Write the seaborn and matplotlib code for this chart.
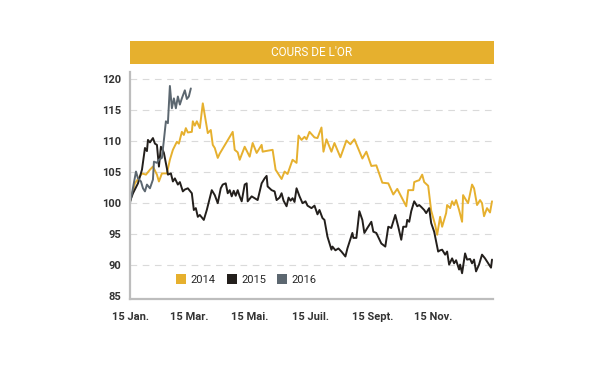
import pandas as pd
import matplotlib.pyplot as plt
import seaborn as sns
from matplotlib.patches import Rectangle, Patch

# Jours depuis le 15 janvier et cours (base 100)
jours_2014 = [0, 5, 12, 16, 20, 23, 27, 29, 32, 37, 40, 43, 47, 49, 52, 54, 56, 58, 62, 63, 65, 67, 70, 73,
              78, 81, 83, 85, 88, 90, 103, 105, 108, 110, 115, 120, 123, 127, 132, 133, 136, 143, 146, 152,
              155, 158, 163, 167, 169, 172, 175, 177, 180, 185, 188, 192, 194, 197, 202, 205, 211, 217, 221,
              225, 233, 237, 242, 247, 253, 259, 264, 268, 277, 279, 284, 285, 288, 290, 293, 295, 299, 302,
              306, 308, 311, 313, 317, 318, 321, 323, 325, 327, 330, 333, 334, 337, 339, 343, 345, 348, 351,
              353, 355, 358, 361, 363]
cours_2014 = [100.3, 103.2, 104.8, 104.6, 105.4, 105.9, 104.6, 103.5, 104.8, 104.8, 107.0, 108.6, 109.9, 109.6,
              111.5, 111.0, 112.1, 111.4, 111.5, 113.2, 112.5, 113.2, 112.1, 116.1, 111.3, 111.8, 109.4, 108.9,
              107.3, 108.0, 111.5, 108.6, 108.2, 107.0, 109.1, 107.5, 109.7, 108.1, 109.4, 108.3, 108.4, 108.6,
              105.4, 103.9, 105.1, 104.7, 107.0, 106.5, 110.9, 110.2, 110.7, 110.3, 111.5, 110.6, 110.5, 112.2,
              108.3, 110.3, 108.3, 109.7, 107.4, 110.1, 109.5, 110.3, 107.2, 108.3, 106.0, 106.1, 103.3, 103.2,
              101.4, 102.3, 99.5, 102.1, 102.1, 103.4, 103.6, 103.7, 104.6, 103.4, 102.8, 98.8, 96.5, 94.9,
              97.8, 96.2, 98.4, 99.7, 99.2, 100.3, 99.7, 100.5, 98.9, 97.0, 101.3, 100.5, 100.0, 103.0, 102.4,
              99.7, 100.5, 100.0, 97.9, 99.2, 98.5, 100.3]

jours_2015 = [0, 3, 8, 12, 15, 17, 18, 20, 23, 25, 27, 29, 31, 33, 34, 37, 38, 41, 43, 45, 48, 50, 53, 55, 58,
              62, 64, 66, 68, 70, 74, 77, 80, 82, 85, 88, 91, 93, 96, 98, 100, 102, 104, 106, 108, 110, 112,
              115, 117, 118, 122, 125, 128, 132, 135, 137, 138, 142, 145, 147, 150, 152, 154, 157, 159, 161,
              163, 165, 167, 170, 173, 176, 178, 182, 185, 188, 190, 193, 195, 198, 202, 203, 206, 209, 212,
              216, 218, 223, 224, 227, 230, 233, 235, 238, 242, 244, 247, 252, 256, 259, 262, 266, 269, 272,
              274, 277, 278, 280, 282, 285, 288, 290, 292, 295, 297, 300, 302, 305, 307, 309, 311, 313, 316,
              318, 320, 323, 325, 327, 330, 331, 333, 336, 338, 341, 343, 345, 347, 350, 353, 356, 358, 362, 363]
cours_2015 = [100.3, 101.6, 103.2, 105.4, 108.9, 108.4, 110.2, 109.8, 110.5, 109.6, 109.4, 105.9, 109.1, 108.5,
              108.1, 105.6, 104.6, 104.8, 103.5, 104.0, 103.0, 103.4, 101.9, 102.2, 102.4, 101.6, 98.9, 99.2,
              97.8, 98.1, 97.3, 98.9, 100.8, 102.1, 101.3, 100.0, 102.4, 103.0, 103.2, 101.6, 102.1, 101.1,
              102.0, 101.2, 102.1, 101.1, 100.3, 103.0, 103.2, 100.3, 101.1, 100.8, 100.5, 103.2, 104.0, 104.4,
              102.7, 102.1, 101.9, 100.5, 100.9, 101.6, 100.4, 99.5, 100.9, 100.4, 100.8, 100.2, 102.4, 101.1,
              100.0, 100.3, 99.6, 99.2, 99.6, 98.2, 98.9, 97.6, 97.3, 94.6, 92.5, 93.0, 92.4, 92.7, 92.2, 91.4,
              92.7, 95.2, 94.4, 94.4, 98.7, 97.3, 95.2, 96.0, 97.0, 95.4, 95.2, 93.5, 93.0, 96.2, 96.0, 98.1,
              96.2, 94.1, 96.2, 96.2, 97.3, 97.0, 98.7, 100.3, 99.5, 99.7, 99.4, 98.9, 98.4, 99.2, 96.8, 95.4,
              93.8, 92.2, 92.4, 92.5, 91.7, 92.2, 90.1, 91.1, 90.3, 90.8, 89.3, 90.1, 88.7, 91.9, 90.9, 91.0,
              90.3, 90.9, 89.0, 90.1, 91.7, 91.1, 90.6, 89.6, 90.9]

jours_2016 = [0, 2, 6, 8, 11, 13, 15, 17, 20, 23, 24, 27, 29, 32, 34, 36, 38, 40, 42, 44, 46, 48, 50, 52, 55,
              57, 59, 61]
cours_2016 = [100.0, 101.6, 105.1, 104.0, 103.5, 102.4, 101.9, 103.0, 102.4, 103.8, 106.7, 106.5, 107.0, 107.3,
              110.2, 113.2, 112.9, 118.9, 115.3, 116.9, 115.3, 117.2, 115.9, 116.9, 118.2, 116.8, 117.2, 118.5]

annees = ['2014', '2015', '2016']
couleurs = ['#E6B02E', '#231F1C', '#5C6770']
tick_jours = [0, 59, 120, 181, 243, 304, 363]
tick_labels = ['15 Jan.', '15 Mar.', '15 Mai.', '15 Juil.', '15 Sept.', '15 Nov.', '']

df = pd.concat([
    pd.DataFrame({'jour': jours_2014, 'cours': cours_2014, 'annee': '2014'}),
    pd.DataFrame({'jour': jours_2015, 'cours': cours_2015, 'annee': '2015'}),
    pd.DataFrame({'jour': jours_2016, 'cours': cours_2016, 'annee': '2016'}),
])

sns.set_style('white')
plt.rcParams['font.family'] = ['Liberation Sans Narrow', 'Roboto', 'DejaVu Sans']

fig = plt.figure(figsize=(6, 3.75), dpi=100)
ax = fig.add_axes([130 / 600, 1 - 299.3 / 375, 363 / 600, (299.3 - 71.7) / 375])

sns.lineplot(data=df, x='jour', y='cours', hue='annee', palette=dict(zip(annees, couleurs)),
             linewidth=1.4, ax=ax, legend=False, estimator=None, sort=False)

ax.set_xlim(0, 364)
ax.set_ylim(84.5, 121.2)
ax.set_yticks([85, 90, 95, 100, 105, 110, 115, 120])
ax.set_xticks(tick_jours)
ax.set_xticklabels(tick_labels)
ax.set_xlabel('')
ax.set_ylabel('')

for v in [90, 95, 100, 105, 110, 115, 120]:
    ax.axhline(v, color='#DADADA', linewidth=0.8, linestyle=(0, (6, 5)), zorder=0)

for s in ['top', 'right']:
    ax.spines[s].set_visible(False)
for s in ['left', 'bottom']:
    ax.spines[s].set_color('#BDBDBD')
    ax.spines[s].set_linewidth(1.6)

ax.tick_params(axis='y', length=0, pad=6, labelsize=8, labelcolor='#333333')
ax.tick_params(axis='x', length=4, width=1, color='#BDBDBD', pad=5, labelsize=8, labelcolor='#333333')
for lab in ax.get_xticklabels() + ax.get_yticklabels():
    lab.set_fontweight('bold')

# Légende
handles = [Patch(facecolor=c, edgecolor='none') for c in couleurs]
ax.legend(handles, annees, loc='lower left', bbox_to_anchor=(0.1, 0.02), ncol=3, frameon=False,
          handlelength=0.9, handleheight=1.0, handletextpad=0.4, columnspacing=1.0, fontsize=8)

# Bandeau titre
fig.patches.append(Rectangle((130 / 600, 1 - 63.5 / 375), 364 / 600, 22.5 / 375,
                             transform=fig.transFigure, facecolor='#E6B02E', edgecolor='none'))
fig.text((130 + 494) / 2 / 600, 1 - 52.5 / 375, "COURS DE L'OR", color='white', fontsize=8.5,
         ha='center', va='center')

fig.savefig('out.png', dpi=100)
